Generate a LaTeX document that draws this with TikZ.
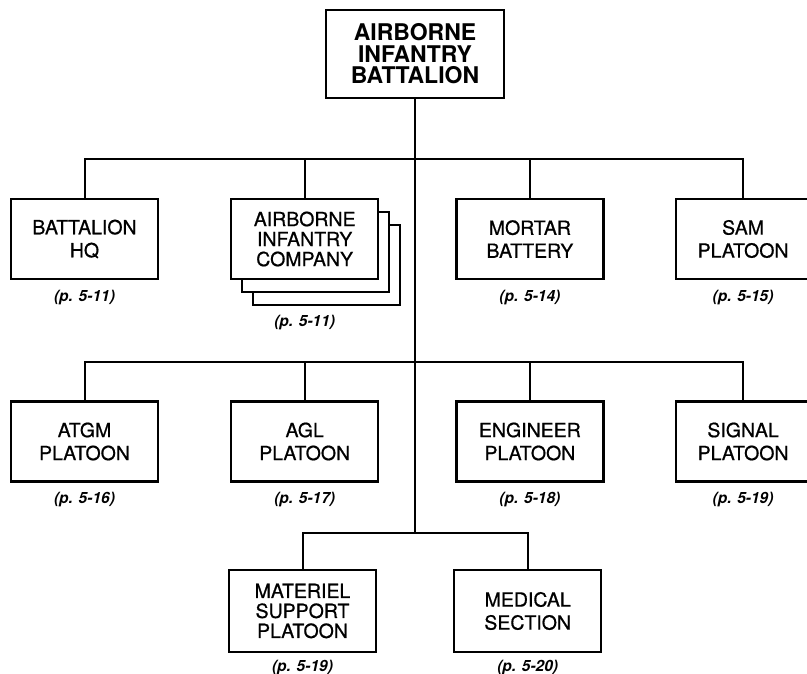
\documentclass[tikz,border=0pt]{standalone}
\usepackage{fontspec}
\setmainfont{TeX Gyre Heros}
\newfontfamily\unitfont[FakeBold=0.7]{TeX Gyre Heros}
\usetikzlibrary{positioning,shadows}

\begin{document}
\begin{tikzpicture}[
    x=1pt, y=-1pt,
    unit/.style={rectangle, draw=black, line width=2.2pt, fill=white, align=center, inner sep=0pt, minimum width=147pt, minimum height=80pt, font=\unitfont\fontsize{19.5}{23}\selectfont},
    unitthree/.style={unit, font=\unitfont\fontsize{19.5}{20}\selectfont},
    unitnarrow/.style={unit, minimum width=135pt},
    top/.style={unit, minimum width=178pt, minimum height=88pt, font=\fontsize{23}{21.5}\selectfont\bfseries},
    stack/.style={double copy shadow={shadow xshift=11pt, shadow yshift=-13pt, fill=white, draw=black, line width=2.2pt}},
    pg/.style={inner sep=0pt, font=\fontsize{15.5}{18}\selectfont\bfseries\itshape},
    link/.style={line width=2pt, line cap=rect}
  ]
    \useasboundingbox (0,0) rectangle (807,674);

    \node[top] (bn) at (415,54) {AIRBORNE\\INFANTRY\\BATTALION};

    % first row
    \node[unit] (hq) at (84.5,239) {BATTALION\\HQ};
    \node[unitthree, stack, right=71pt of hq] (co) {AIRBORNE\\INFANTRY\\COMPANY};
    \node[unit, right=76pt of co] (mort) {MORTAR\\BATTERY};
    \node[unitnarrow, right=70pt of mort] (sam) {SAM\\PLATOON};

    % second row
    \node[unit] (atgm) at (84.5,441.5) {ATGM\\PLATOON};
    \node[unit, right=71pt of atgm] (agl) {AGL\\PLATOON};
    \node[unit, right=76pt of agl] (eng) {ENGINEER\\PLATOON};
    \node[unitnarrow, right=70pt of eng] (sig) {SIGNAL\\PLATOON};

    % third row
    \node[unitthree, minimum height=82pt] (mat) at (302.5,611) {MATERIEL\\SUPPORT\\PLATOON};
    \node[unit, minimum height=82pt, right=76pt of mat] (med) {MEDICAL\\SECTION};

    \node[pg, below=10pt of hq] (hqp) {(p. 5-11)};
    \node[pg, below=35pt of co] (cop) {(p. 5-11)};
    \node[pg, below=10pt of mort] (mortp) {(p. 5-14)};
    \node[pg, below=10pt of sam] (samp) {(p. 5-15)};
    \node[pg, below=9pt of atgm] (atgmp) {(p. 5-16)};
    \node[pg, below=9pt of agl] (aglp) {(p. 5-17)};
    \node[pg, below=9pt of eng] (engp) {(p. 5-18)};
    \node[pg, below=9pt of sig] (sigp) {(p. 5-19)};
    \node[pg, below=7pt of mat] (matp) {(p. 5-19)};
    \node[pg, below=7pt of med] (medp) {(p. 5-20)};

    \coordinate (j1) at (415,159);
    \coordinate (j2) at (415,362);
    \coordinate (j3) at (415,533);

    \draw[link] (bn.south) -- (j3);
    \draw[link] (hq.north) |- (j1) -| (sam.north);
    \draw[link] (co.north) -- (co.north |- j1);
    \draw[link] (mort.north) -- (mort.north |- j1);
    \draw[link] (atgm.north) |- (j2) -| (sig.north);
    \draw[link] (agl.north) -- (agl.north |- j2);
    \draw[link] (eng.north) -- (eng.north |- j2);
    \draw[link] (mat.north) |- (j3) -| (med.north);
  \end{tikzpicture}
\end{document}
